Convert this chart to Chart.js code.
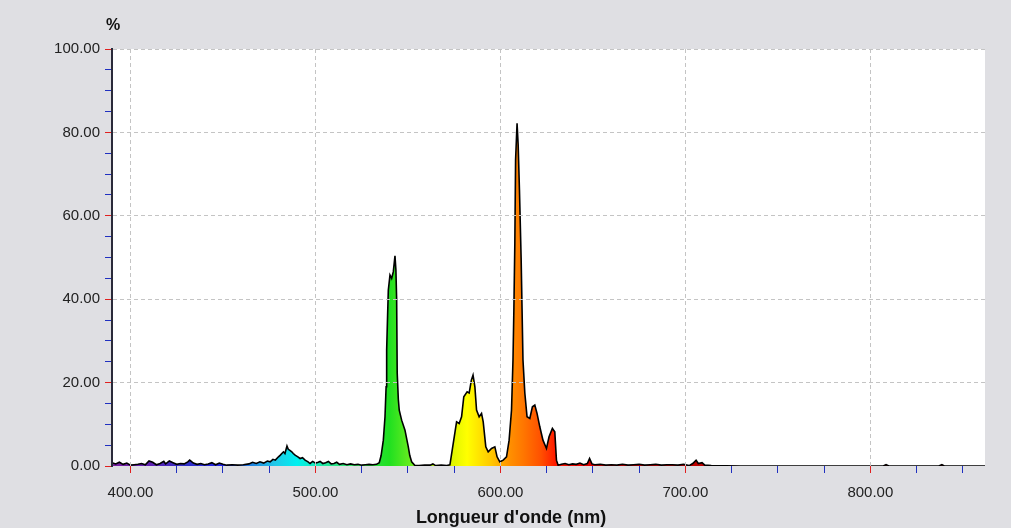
<!DOCTYPE html>
<html>
<head>
<meta charset="utf-8">
<script src="https://cdn.jsdelivr.net/npm/chart.js@4.4.1/dist/chart.umd.min.js"></script>
<style>
  html, body { margin: 0; padding: 0; background: #dfdfe3; }
  #wrap { width: 1011px; height: 528px; }
</style>
</head>
<body>
<div id="wrap"><canvas id="spectre" width="1011" height="528"></canvas></div>
<script>
// wavelength (nm) and relative intensity (%)
const wavelengths = [
  390, 392, 394, 396, 398, 400, 402, 404, 406, 408, 410, 412, 414, 416, 418, 419, 421, 423, 425, 427,
  429, 431, 432, 434, 436, 438, 440, 442, 444, 446, 448, 450, 452, 455, 458, 461, 464, 466, 468, 470,
  472, 474, 475.5, 477, 478.3, 480, 481, 482.7, 483.5, 484.6, 485.3, 486, 487.2, 488, 489, 490.5, 491.7, 493, 494.4, 496,
  497.1, 498.5, 500, 501.5, 502.5, 504, 505.5, 507, 508.5, 510, 511.5, 513, 515, 517, 519, 521, 523, 525, 527, 529,
  531, 533, 534.5, 535.5, 536.7, 537.6, 538.2, 538.5, 539, 539.4, 540.3, 541.2, 542.1, 543, 543.5, 543.9, 544.2, 544.8, 545.3, 546.6,
  548.4, 550.2, 551, 552, 553.8, 556, 559, 562, 563.5, 565, 568, 571, 572.7, 574.5, 576.3, 577.7, 579, 580.2, 582, 583.1,
  584.3, 585.2, 586.2, 587.1, 588.5, 589.8, 590.7, 592.1, 593.4, 595.2, 597, 598.2, 599.7, 601.5, 603.3, 604.7, 606, 606.8, 607.3, 607.8,
  608.2, 609, 609.6, 610.3, 611.2, 612.2, 613.2, 614.4, 615.9, 617.3, 618.6, 619.8, 621.3, 623, 624.9, 626.3, 628.1, 629.4, 630.3, 631.2,
  633, 635, 637, 639, 641, 643, 645, 647, 648.2, 649.5, 651, 654, 657, 660, 663, 666, 669, 672, 675, 678,
  681, 684, 687, 690, 693, 696, 699, 702, 704, 705.8, 707, 709, 710.5, 714, 730, 760, 790, 807, 808.5, 810,
  837, 838.7, 840, 862
];
const percent = [
  0.8, 0.5, 0.9, 0.4, 0.7, 0.2, 0.3, 0.4, 0.6, 0.3, 1.2, 0.9, 0.3, 0.6, 1.1, 0.5, 1.2, 0.8, 0.4, 0.6,
  0.5, 1.0, 1.4, 0.7, 0.4, 0.6, 0.3, 0.5, 0.8, 0.3, 0.7, 0.4, 0.2, 0.3, 0.2, 0.3, 0.5, 0.9, 0.6, 1.0,
  0.7, 1.2, 1.0, 1.6, 1.4, 2.2, 2.6, 3.4, 3.0, 4.8, 4.0, 3.8, 3.4, 3.0, 2.6, 2.2, 1.8, 2.0, 1.4, 1.0,
  0.6, 1.1, 0.7, 0.9, 1.1, 0.6, 0.8, 1.1, 0.5, 0.6, 0.9, 0.4, 0.6, 0.3, 0.5, 0.3, 0.4, 0.2, 0.3, 0.4,
  0.3, 0.4, 0.8, 2.5, 6.2, 11.8, 19, 27.8, 36, 42.2, 45.8, 45.0, 46.6, 50.4, 47, 39.8, 22.3, 16, 13.4, 11,
  8.6, 4.6, 2.5, 1.0, 0.1, 0.1, 0.2, 0.2, 0.5, 0.1, 0.2, 0.1, 0.3, 5.4, 10.6, 10.2, 11.8, 16.6, 17.8, 17.5,
  20.6, 21.8, 19, 13.4, 11.8, 12.6, 10.6, 4.6, 3.4, 4.2, 4.6, 2.2, 1.0, 1.4, 2.2, 6.2, 13.4, 25.4, 38, 53.5,
  73.4, 82.2, 77, 66.2, 49.9, 25.4, 17.5, 11.8, 11.4, 14.2, 14.6, 12.6, 9.4, 6.2, 4.2, 7.0, 9.0, 8.2, 1.4, 0.2,
  0.4, 0.6, 0.3, 0.5, 0.4, 0.7, 0.3, 0.6, 1.8, 0.5, 0.3, 0.4, 0.2, 0.3, 0.2, 0.4, 0.2, 0.3, 0.4, 0.2,
  0.3, 0.4, 0.2, 0.3, 0.3, 0.2, 0.4, 0.1, 0.6, 1.4, 0.6, 0.8, 0.2, 0.1, 0, 0, 0, 0, 0.3, 0,
  0, 0.3, 0, 0
];

const xTicks = [400, 500, 600, 700, 800];
const yTicks = [0, 20, 40, 60, 80, 100];
const xTitle = "Longueur d'onde (nm)";
const yTitle = "%";

// colour of the fill along the spectrum
const colourStops  = [390, 410, 430, 450, 465, 478, 490, 505, 520, 540, 555, 570, 582, 595, 605, 612, 622, 630, 645, 700, 780];
const colourValues = ["#7a1fa0", "#6020b0", "#3030c8", "#2020e0", "#2080e0", "#20c8e8", "#00f0f0", "#20e8a0", "#30e060", "#20e020",
                      "#80f020", "#d0f000", "#ffff00", "#ffc800", "#ff9000", "#ff7800", "#ff5000", "#ff1800", "#e00000", "#c00000", "#a00000"];

function spectrumFill(context) {
  const chart = context.chart;
  const x = chart.scales.x;
  if (!chart.chartArea || !x) return null;
  const left = x.getPixelForValue(x.min);
  const right = x.getPixelForValue(x.max);
  const grad = chart.ctx.createLinearGradient(left, 0, right, 0);
  colourStops.forEach((w, i) => {
    const t = (x.getPixelForValue(w) - left) / (right - left);
    grad.addColorStop(Math.min(1, Math.max(0, t)), colourValues[i]);
  });
  return grad;
}

const isMajor = (list) => (ctx) => ctx.tick && list.includes(ctx.tick.value);

const plotBackground = {
  id: "plotBackground",
  beforeDraw(chart) {
    const { ctx, chartArea } = chart;
    ctx.save();
    ctx.fillStyle = "#dfdfe3";
    ctx.fillRect(0, 0, chart.width, chart.height);
    ctx.fillStyle = "#ffffff";
    ctx.fillRect(chartArea.left, chartArea.top, chartArea.right - chartArea.left, chartArea.bottom - chartArea.top);
    ctx.restore();
  },
  afterDraw(chart) {
    const { ctx, chartArea } = chart;
    ctx.save();
    ctx.fillStyle = "#111";
    ctx.textAlign = "center";
    ctx.textBaseline = "middle";
    ctx.font = "bold 16px 'Liberation Sans', Arial, sans-serif";
    ctx.fillText(yTitle, chartArea.left + 1, 26);
    ctx.font = "bold 18px 'Liberation Sans', Arial, sans-serif";
    ctx.fillText(xTitle, 511, 518);
    ctx.restore();
  }
};

new Chart("spectre", {
  type: "line",
  data: {
    datasets: [
      {
        data: wavelengths.map((w, i) => ({ x: w, y: percent[i] })),
        borderColor: "#000000",
        borderWidth: 1.6,
        backgroundColor: spectrumFill,
        fill: "origin",
        pointRadius: 0,
        tension: 0,
      },
    ],
  },
  options: {
    responsive: false,
    devicePixelRatio: 1,
    animation: false,
    layout: { padding: { top: 49, right: 26, bottom: 0, left: 0 } },
    plugins: {
      legend: { display: false },
      tooltip: { enabled: false },
    },
    scales: {
      x: {
        type: "linear",
        min: 390,
        max: 862,
        afterFit: (scale) => { scale.height = 62; },
        ticks: {
          stepSize: 25,
          includeBounds: false,
          autoSkip: false,
          maxRotation: 0,
          padding: 11,
          color: "#222",
          font: { family: "'Liberation Sans', Arial, sans-serif", size: 15 },
          callback: (v) => (xTicks.includes(v) ? v.toFixed(2) : ""),
        },
        grid: {
          z: 1,
          color: (ctx) => (isMajor(xTicks)(ctx) ? "#c4c4c4" : "rgba(0,0,0,0)"),
          tickColor: (ctx) => (isMajor(xTicks)(ctx) ? "#e02020" : "#2030c0"),
          tickLength: 7,
          tickBorderDash: [],
        },
        border: { display: false, dash: [4, 3] },
      },
      y: {
        min: 0,
        max: 100,
        afterFit: (scale) => { scale.width = 112; },
        ticks: {
          stepSize: 5,
          autoSkip: false,
          padding: 5,
          color: "#222",
          font: { family: "'Liberation Sans', Arial, sans-serif", size: 15 },
          callback: (v) => (yTicks.includes(v) ? v.toFixed(2) : ""),
        },
        grid: {
          z: 1,
          color: (ctx) => (isMajor(yTicks)(ctx) && ctx.tick.value !== 0 ? "#c4c4c4" : "rgba(0,0,0,0)"),
          tickColor: (ctx) => (isMajor(yTicks)(ctx) ? "#e02020" : "#2030c0"),
          tickLength: 7,
          tickBorderDash: [],
        },
        border: { display: true, color: "#2a2a3a", width: 2, dash: [4, 3], z: 2 },
      },
    },
  },
  plugins: [plotBackground],
});
</script>
</body>
</html>
